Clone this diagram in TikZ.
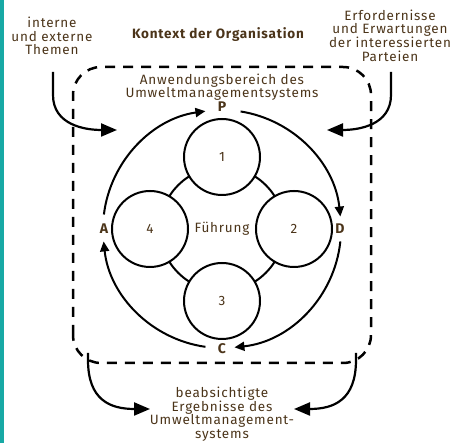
\documentclass[tikz,border=0pt]{standalone}
\usepackage{fontspec}
\setmainfont{Fira Sans}[LetterSpace=6]
\usetikzlibrary{arrows.meta,calc}
\definecolor{txtcol}{HTML}{4B3419}
\definecolor{stripcol}{HTML}{17A9A5}
\begin{document}
\begin{tikzpicture}[x=1pt,y=1pt,
  font=\fontsize{13.5}{13.6}\selectfont,
  every node/.style={text=txtcol, inner sep=0pt},
  txtblock/.style={align=center},
  pdca/.style={font=\fontsize{14}{14}\selectfont\bfseries},
  smallcirc/.style={circle, draw=black, fill=white, line width=2pt, minimum size=76pt},
  solidline/.style={draw=black, line width=2pt},
  cyc/.style={draw=black, line width=2pt, -{Triangle[length=10pt,width=9pt]}},
  bigarrow/.style={draw=black, line width=2.2pt, -{Triangle[length=16pt,width=13pt]}},
  dashbox/.style={draw=black, line width=2.5pt, dash pattern=on 10pt off 8pt, rounded corners=28pt}
]
\useasboundingbox (0,0) rectangle (451,443);
\fill[stripcol] (0,0) rectangle (4,443);

% dashed scope frame
\draw[dashbox] (73,80) rectangle (371,376);

% centre
\coordinate (O) at (222,214);
\draw[solidline] (O) circle[radius=62];
\node[smallcirc] (c1) at (222,286) {1};
\node[smallcirc] (c2) at (294,214) {2};
\node[smallcirc] (c3) at (222,142) {3};
\node[smallcirc] (c4) at (150,214) {4};
\node (fuehrung) at (O) {Führung};

% PDCA labels
\node[pdca] (P) at (222,336) {P};
\node[pdca] (D) at (340,214) {D};
\node[pdca] (C) at (222,94) {C};
\node[pdca] (A) at (104,214) {A};

% PDCA arcs
\draw[cyc] ($(O)+(173:119)$) arc[start angle=173, end angle=98, radius=119];
\draw[cyc] ($(O)+(81:119)$) arc[start angle=81, end angle=6, radius=119];
\draw[cyc] ($(O)+(-6:119)$) arc[start angle=-6, end angle=-84, radius=119];
\draw[cyc] ($(O)+(262:119)$) arc[start angle=262, end angle=186, radius=119];

% texts
\node[txtblock] (themen) at (52,407) {interne\\und externe\\Themen};
\node[font=\fontsize{13.5}{13.6}\selectfont\bfseries] (title) at (218,408) {Kontext der Organisation};
\node[txtblock] (parteien) at (390,407.5) {Erfordernisse\\und Erwartungen\\der interessierten\\Parteien};
\node[txtblock] (scope) at (222,356) {Anwendungsbereich des\\Umweltmanagementsystems};
\node[txtblock] (ergebnis) at (222,29) {beabsichtigte\\Ergebnisse des\\Umweltmanagement-\\systems};

% outer arrows
\coordinate (tlS) at (53,371);
\coordinate (tlE) at (117,313);
\coordinate (trS) at (391,371);
\coordinate (trE) at (327,313);
\coordinate (blS) at (88,90);
\coordinate (blE) at (150,34);
\coordinate (brS) at (356,90);
\coordinate (brE) at (294,34);
\draw[bigarrow] (tlS) -- ++(0,-23) .. controls +(0,-30) and +(-32,0) .. (tlE);
\draw[bigarrow] (trS) -- ++(0,-23) .. controls +(0,-30) and +(32,0) .. (trE);
\draw[bigarrow] (blS) -- ++(0,-7) .. controls +(0,-40) and +(-40,0) .. (blE);
\draw[bigarrow] (brS) -- ++(0,-7) .. controls +(0,-40) and +(40,0) .. (brE);
\end{tikzpicture}
\end{document}
